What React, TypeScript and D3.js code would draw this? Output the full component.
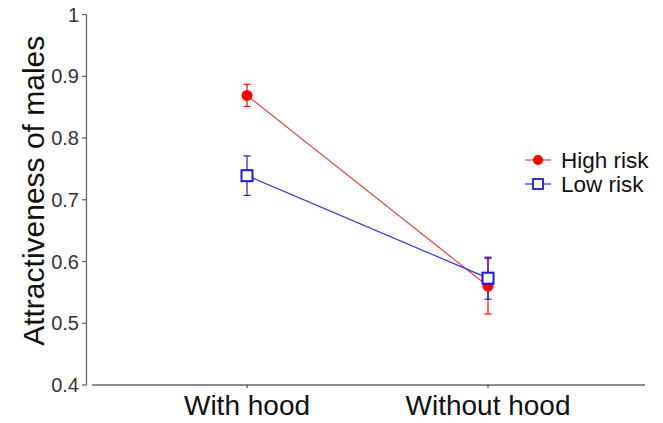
import React from "react";
import * as d3 from "d3";

const categories = ["With hood", "Without hood"];
const highRisk = [0.869, 0.56];
const highRiskErr = [0.018, 0.045];
const lowRisk = [0.739, 0.573];
const lowRiskErr = [0.032, 0.034];
const yTicks = [0.4, 0.5, 0.6, 0.7, 0.8, 0.9, 1];
const seriesNames = ["High risk", "Low risk"];

const W = 663;
const H = 423;

export default function App() {
  const y = d3.scaleLinear().domain([0.4, 1]).range([385, 14.5]);
  const x = d3.scalePoint<string>().domain(categories).range([247, 488]);
  const line = d3
    .line<number>()
    .x((_, i) => x(categories[i]) as number)
    .y((d) => y(d));
  const font = "'Liberation Sans', Arial, sans-serif";
  const red = "#ff0000";
  const blue = "#1a1ad6";
  const tickFmt = (v: number) => (v === 1 ? "1" : d3.format(".1f")(v));
  const cap = 3.5;

  const errBars = (vals: number[], errs: number[], color: string) =>
    vals.map((v, i) => {
      const cx = x(categories[i]) as number;
      return (
        <g key={i} stroke={color} strokeWidth={1.2}>
          <line x1={cx} x2={cx} y1={y(v + errs[i])} y2={y(v - errs[i])} />
          <line x1={cx - cap} x2={cx + cap} y1={y(v + errs[i])} y2={y(v + errs[i])} />
          <line x1={cx - cap} x2={cx + cap} y1={y(v - errs[i])} y2={y(v - errs[i])} />
        </g>
      );
    });

  return (
    <svg width={W} height={H} style={{ position: "absolute", left: 0, top: 0, background: "#fff" }}>
      {/* y axis */}
      <line x1={86.5} x2={86.5} y1={y(1)} y2={y(0.4)} stroke="#666" strokeWidth={1.3} />
      {yTicks.map((t) => (
        <g key={t}>
          <line x1={82} x2={86.5} y1={y(t)} y2={y(t)} stroke="#666" strokeWidth={1.3} />
          <text x={79} y={y(t)} dy="0.36em" textAnchor="end" fontFamily={font} fontSize={20} fill="#333">
            {tickFmt(t)}
          </text>
        </g>
      ))}
      <text
        transform={`translate(44,${(y(1) + y(0.4)) / 2 - 9}) rotate(-90)`}
        textAnchor="middle"
        fontFamily={font}
        fontSize={30}
        fill="#111"
      >
        Attractiveness of males
      </text>
      {/* x axis */}
      <line x1={92} x2={645} y1={385} y2={385} stroke="#666" strokeWidth={1.3} />
      {categories.map((c) => (
        <g key={c}>
          <line x1={x(c)} x2={x(c)} y1={385} y2={388} stroke="#444" strokeWidth={1.2} />
          <text x={x(c)} y={415} textAnchor="middle" fontFamily={font} fontSize={28} fill="#111">
            {c}
          </text>
        </g>
      ))}
      {/* lines */}
      <path d={line(highRisk) || ""} fill="none" stroke="#e84040" strokeWidth={1.2} />
      <path d={line(lowRisk) || ""} fill="none" stroke="#3030e0" strokeWidth={1.2} />
      {errBars(highRisk, highRiskErr, red)}
      {errBars(lowRisk, lowRiskErr, blue)}
      {highRisk.map((v, i) => (
        <circle key={i} cx={x(categories[i])} cy={y(v)} r={5.5} fill={red} />
      ))}
      {lowRisk.map((v, i) => (
        <rect
          key={i}
          x={(x(categories[i]) as number) - 5.5}
          y={y(v) - 5.5}
          width={11}
          height={11}
          fill="#fff"
          stroke={blue}
          strokeWidth={2}
        />
      ))}
      {/* legend */}
      <g>
        <line x1={525} x2={551} y1={160} y2={160} stroke="#e84040" strokeWidth={1.2} />
        <circle cx={538} cy={160} r={5} fill={red} />
        <text x={561} y={160} dy="0.36em" fontFamily={font} fontSize={22.5} fill="#111">
          {seriesNames[0]}
        </text>
        <line x1={525} x2={551} y1={184} y2={184} stroke="#3030e0" strokeWidth={1.2} />
        <rect x={533} y={179} width={10} height={10} fill="#fff" stroke={blue} strokeWidth={1.8} />
        <text x={561} y={184} dy="0.36em" fontFamily={font} fontSize={22.5} fill="#111">
          {seriesNames[1]}
        </text>
      </g>
    </svg>
  );
}
